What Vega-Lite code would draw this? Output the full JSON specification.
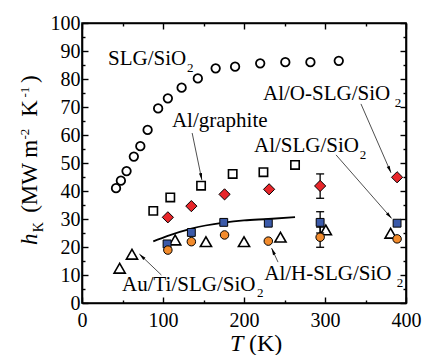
{
  "$schema": "https://vega.github.io/schema/vega-lite/v6.json",
  "width": 324,
  "height": 280,
  "autosize": {"type": "none"},
  "padding": {"left": 82, "top": 23, "right": 16, "bottom": 52},
  "background": "white",
  "config": {
    "view": {"stroke": "black", "strokeWidth": 1.6},
    "font": "Liberation Serif"
  },
  "datasets": {
    "dummy": [{"T": 0, "h": 0}],
    "slg": [
      {"T": 42, "h": 41}, {"T": 48, "h": 43.7}, {"T": 55, "h": 47.1}, {"T": 64, "h": 52.3},
      {"T": 72, "h": 56}, {"T": 81, "h": 61.8}, {"T": 94, "h": 69.5}, {"T": 106, "h": 73.1},
      {"T": 123, "h": 76.9}, {"T": 143, "h": 80.2}, {"T": 165, "h": 83.8}, {"T": 189, "h": 84.4},
      {"T": 220, "h": 85.6}, {"T": 251, "h": 86}, {"T": 282, "h": 86}, {"T": 317, "h": 86.5}
    ],
    "graphite": [
      {"T": 88, "h": 32.9}, {"T": 109, "h": 37.7}, {"T": 147, "h": 41.9},
      {"T": 186, "h": 46.1}, {"T": 224, "h": 46.7}, {"T": 263, "h": 49.3}
    ],
    "aloslg": [
      {"T": 106, "h": 30.6}, {"T": 135, "h": 34.6}, {"T": 176, "h": 38.8},
      {"T": 231, "h": 40.6}, {"T": 294, "h": 41.8}, {"T": 389, "h": 44.9}
    ],
    "alslg": [
      {"T": 105, "h": 21.1}, {"T": 135, "h": 25.2}, {"T": 175, "h": 28.8},
      {"T": 230, "h": 28.5}, {"T": 294, "h": 28.8}, {"T": 389, "h": 28.5}
    ],
    "alhslg": [
      {"T": 106, "h": 18.9}, {"T": 135, "h": 21.9}, {"T": 176, "h": 24.3},
      {"T": 230, "h": 22.1}, {"T": 294, "h": 23.5}, {"T": 389, "h": 22.9}
    ],
    "auti": [
      {"T": 46.5, "h": 12.4}, {"T": 61.7, "h": 17.4}, {"T": 115, "h": 22.5}, {"T": 153, "h": 21.9},
      {"T": 200, "h": 21.9}, {"T": 245, "h": 23.5}, {"T": 301, "h": 26.1}, {"T": 381, "h": 24.9}
    ],
    "curve": [
      {"T": 88, "h": 22}, {"T": 105, "h": 23.9}, {"T": 135, "h": 26.6}, {"T": 175, "h": 28.7},
      {"T": 200, "h": 29.5}, {"T": 230, "h": 30}, {"T": 263, "h": 30.7}
    ],
    "err": [
      {"T": 294, "h": 37.4, "h2": 46.1},
      {"T": 294, "h": 25.0, "h2": 32.6},
      {"T": 294, "h": 19.9, "h2": 27.1}
    ],
    "labels": [
      {"t": "SLG/SiO", "T": 32.1, "h": 85},
      {"t": "Al/graphite", "T": 111, "h": 62.9},
      {"t": "Al/O-SLG/SiO", "T": 223.5, "h": 72.5},
      {"t": "Al/SLG/SiO", "T": 212.3, "h": 54},
      {"t": "Au/Ti/SLG/SiO", "T": 49.4, "h": 4.4},
      {"t": "Al/H-SLG/SiO", "T": 225, "h": 8.2}
    ],
    "subs": [
      {"t": "2", "T": 129.6, "h": 82.5},
      {"t": "2", "T": 386, "h": 70},
      {"t": "2", "T": 343, "h": 51.4},
      {"t": "2", "T": 216, "h": 2.1},
      {"t": "2", "T": 388.5, "h": 5.7}
    ],
    "arrows": [
      {"T": 136, "h": 60.7, "T2": 148, "h2": 43.9},
      {"T": 344.4, "h": 71.1, "T2": 381.5, "h2": 46.5},
      {"T": 313.6, "h": 52.9, "T2": 382.3, "h2": 30.2},
      {"T": 98, "h": 10, "T2": 70.8, "h2": 17.5},
      {"T": 242, "h": 14.6, "T2": 234, "h2": 19.6}
    ],
    "ytitle_it": [{"t": "h", "T": -55.6, "h": 20.7}],
    "ytitle_sub": [{"t": "K", "T": -48, "h": 25.3}],
    "ytitle_main": [
      {"t": "(MW m", "T": -55.6, "h": 32.2},
      {"t": "K", "T": -55.6, "h": 66.5},
      {"t": ")", "T": -55.6, "h": 78.6}
    ],
    "ytitle_sup": [
      {"t": "-2", "T": -65.4, "h": 58.4},
      {"t": "-1", "T": -65.4, "h": 73.4}
    ],
    "xtitle_it": [{"t": "T", "T": 182.7, "h": -17.1}],
    "xtitle_main": [{"t": "(K)", "T": 206.2, "h": -17.1}]
  },
  "encoding": {
    "x": {"field": "T", "type": "quantitative", "scale": {"domain": [0, 400], "nice": false, "zero": false}, "axis": null},
    "y": {"field": "h", "type": "quantitative", "scale": {"domain": [0, 100], "nice": false, "zero": false}, "axis": null}
  },
  "layer": [
    {
      "data": {"name": "dummy"},
      "mark": {"type": "point", "opacity": 0},
      "encoding": {
        "x": {"field": "T", "type": "quantitative", "scale": {"domain": [0, 400], "nice": false, "zero": false},
          "axis": {"orient": "bottom", "values": [0, 50, 100, 150, 200, 250, 300, 350, 400],
            "labelExpr": "datum.value % 100 === 0 ? datum.label : ''",
            "tickSize": {"condition": {"test": "datum.value % 100 === 0", "value": -6}, "value": -3},
            "tickColor": "black", "tickWidth": 1.4, "domainColor": "black", "domainWidth": 1.6,
            "labelFont": "Liberation Serif", "labelFontSize": 20, "labelColor": "black", "labelPadding": 13,
            "labelFlush": false, "labelOverlap": false, "grid": false, "title": null}},
        "y": {"field": "h", "type": "quantitative", "scale": {"domain": [0, 100], "nice": false, "zero": false},
          "axis": {"orient": "left", "values": [0, 5, 10, 15, 20, 25, 30, 35, 40, 45, 50, 55, 60, 65, 70, 75, 80, 85, 90, 95, 100],
            "labelExpr": "datum.value % 10 === 0 ? datum.label : ''",
            "tickSize": {"condition": {"test": "datum.value % 10 === 0", "value": -6}, "value": -3},
            "tickColor": "black", "tickWidth": 1.4, "domainColor": "black", "domainWidth": 1.6,
            "labelFont": "Liberation Serif", "labelFontSize": 20, "labelColor": "black", "labelPadding": 8,
            "labelFlush": false, "labelOverlap": false, "grid": false, "title": null}}
      }
    },
    {
      "data": {"name": "dummy"},
      "mark": {"type": "point", "opacity": 0},
      "encoding": {
        "x": {"field": "T", "type": "quantitative", "scale": {"domain": [0, 400], "nice": false, "zero": false},
          "axis": {"orient": "top", "values": [0, 50, 100, 150, 200, 250, 300, 350, 400], "labels": false,
            "tickSize": {"condition": {"test": "datum.value % 100 === 0", "value": -6}, "value": -3},
            "tickColor": "black", "tickWidth": 1.4, "domainColor": "black", "domainWidth": 1.6,
            "grid": false, "title": null}},
        "y": {"field": "h", "type": "quantitative", "scale": {"domain": [0, 100], "nice": false, "zero": false},
          "axis": {"orient": "right", "values": [0, 5, 10, 15, 20, 25, 30, 35, 40, 45, 50, 55, 60, 65, 70, 75, 80, 85, 90, 95, 100], "labels": false,
            "tickSize": {"condition": {"test": "datum.value % 10 === 0", "value": -6}, "value": -3},
            "tickColor": "black", "tickWidth": 1.4, "domainColor": "black", "domainWidth": 1.6,
            "grid": false, "title": null}}
      }
    },
    {
      "data": {"name": "curve"},
      "mark": {"type": "line", "interpolate": "monotone", "color": "black", "strokeWidth": 1.8}
    },
    {
      "data": {"name": "slg"},
      "mark": {"type": "point", "shape": "circle", "filled": false, "stroke": "black", "strokeWidth": 1.8, "size": 72, "opacity": 1}
    },
    {
      "data": {"name": "graphite"},
      "mark": {"type": "point", "shape": "square", "filled": false, "stroke": "black", "strokeWidth": 1.6, "size": 70, "opacity": 1}
    },
    {
      "data": {"name": "auti"},
      "mark": {"type": "point", "shape": "triangle-up", "filled": false, "stroke": "black", "strokeWidth": 1.6, "size": 125, "opacity": 1}
    },
    {
      "data": {"name": "err"},
      "mark": {"type": "rule", "color": "black", "strokeWidth": 1.3},
      "encoding": {"y2": {"field": "h2"}}
    },
    {
      "data": {"name": "err"},
      "mark": {"type": "tick", "orient": "horizontal", "color": "black", "thickness": 1.3, "size": 8, "opacity": 1}
    },
    {
      "data": {"name": "err"},
      "mark": {"type": "tick", "orient": "horizontal", "color": "black", "thickness": 1.3, "size": 8, "opacity": 1},
      "encoding": {"y": {"field": "h2", "type": "quantitative", "scale": {"domain": [0, 100], "nice": false, "zero": false}, "axis": null}}
    },
    {
      "data": {"name": "aloslg"},
      "mark": {"type": "point", "shape": "diamond", "filled": true, "fill": "#e8262a", "stroke": "black", "strokeWidth": 1, "size": 125, "opacity": 1}
    },
    {
      "data": {"name": "alslg"},
      "mark": {"type": "point", "shape": "square", "filled": true, "fill": "#3b5aa9", "stroke": "black", "strokeWidth": 1, "size": 62, "opacity": 1}
    },
    {
      "data": {"name": "alhslg"},
      "mark": {"type": "point", "shape": "circle", "filled": true, "fill": "#f28b2c", "stroke": "black", "strokeWidth": 1, "size": 72, "opacity": 1}
    },
    {
      "data": {"name": "arrows"},
      "mark": {"type": "rule", "color": "#222", "strokeWidth": 0.8},
      "encoding": {"x2": {"field": "T2"}, "y2": {"field": "h2"}}
    },
    {
      "data": {"name": "arrows"},
      "transform": [{"calculate": "atan2((datum.T2 - datum.T) * 0.81, (datum.h2 - datum.h) * 2.8) * 180 / PI", "as": "ang"}],
      "mark": {"type": "point", "shape": "M0,0L-0.45,2L0.45,2Z", "filled": true, "color": "black", "size": 49, "opacity": 1},
      "encoding": {
        "x": {"field": "T2", "type": "quantitative", "scale": {"domain": [0, 400], "nice": false, "zero": false}, "axis": null},
        "y": {"field": "h2", "type": "quantitative", "scale": {"domain": [0, 100], "nice": false, "zero": false}, "axis": null},
        "angle": {"field": "ang", "type": "quantitative", "scale": null}
      }
    },
    {
      "data": {"name": "labels"},
      "mark": {"type": "text", "align": "left", "baseline": "alphabetic", "font": "Liberation Serif", "fontSize": 21, "color": "black"},
      "encoding": {"text": {"field": "t"}}
    },
    {
      "data": {"name": "subs"},
      "mark": {"type": "text", "align": "left", "baseline": "alphabetic", "font": "Liberation Serif", "fontSize": 13, "color": "black"},
      "encoding": {"text": {"field": "t"}}
    },
    {
      "data": {"name": "ytitle_it"},
      "mark": {"type": "text", "align": "left", "baseline": "alphabetic", "angle": 270, "font": "Liberation Serif", "fontStyle": "italic", "fontSize": 23, "color": "black"},
      "encoding": {"text": {"field": "t"}}
    },
    {
      "data": {"name": "ytitle_sub"},
      "mark": {"type": "text", "align": "left", "baseline": "alphabetic", "angle": 270, "font": "Liberation Serif", "fontSize": 14, "color": "black"},
      "encoding": {"text": {"field": "t"}}
    },
    {
      "data": {"name": "ytitle_main"},
      "mark": {"type": "text", "align": "left", "baseline": "alphabetic", "angle": 270, "font": "Liberation Serif", "fontSize": 23, "color": "black"},
      "encoding": {"text": {"field": "t"}}
    },
    {
      "data": {"name": "ytitle_sup"},
      "mark": {"type": "text", "align": "left", "baseline": "alphabetic", "angle": 270, "font": "Liberation Serif", "fontSize": 13, "color": "black"},
      "encoding": {"text": {"field": "t"}}
    },
    {
      "data": {"name": "xtitle_it"},
      "mark": {"type": "text", "align": "left", "baseline": "alphabetic", "font": "Liberation Serif", "fontStyle": "italic", "fontSize": 24, "color": "black"},
      "encoding": {"text": {"field": "t"}}
    },
    {
      "data": {"name": "xtitle_main"},
      "mark": {"type": "text", "align": "left", "baseline": "alphabetic", "font": "Liberation Serif", "fontSize": 24, "color": "black"},
      "encoding": {"text": {"field": "t"}}
    }
  ],
  "resolve": {"axis": {"x": "independent", "y": "independent"}}
}
